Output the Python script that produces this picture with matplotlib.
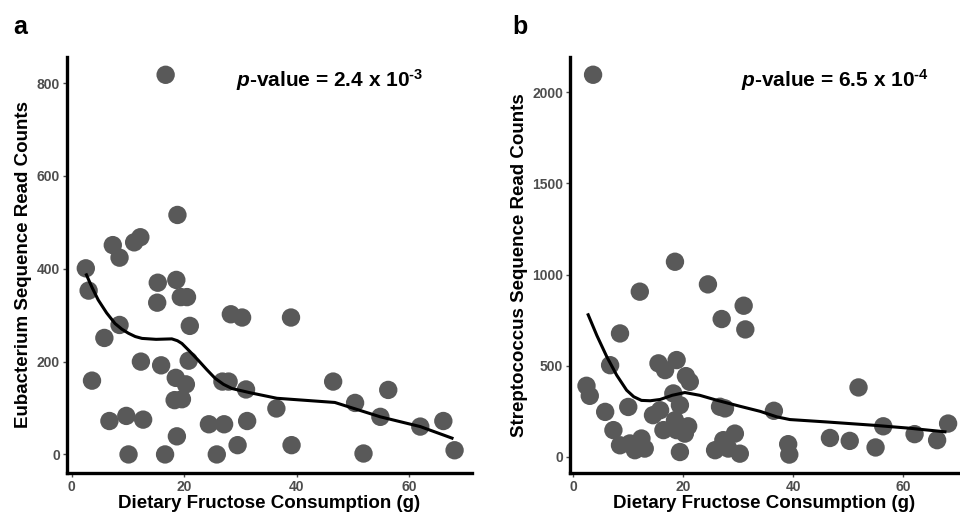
import matplotlib
matplotlib.use("Agg")
import matplotlib.pyplot as plt

plt.rcParams['font.family'] = ['Liberation Sans', 'DejaVu Sans']
plt.rcParams['mathtext.fontset'] = 'custom'
plt.rcParams['mathtext.rm'] = 'Liberation Sans:bold'
plt.rcParams['mathtext.it'] = 'Liberation Sans:bold:italic'
plt.rcParams['mathtext.bf'] = 'Liberation Sans:bold'

# ---- Panel a: Eubacterium ----
a_x = [16.7, 18.8, 7.3, 8.5, 11.1, 12.2, 2.5, 3.0, 15.3, 18.6, 15.2, 19.4, 20.5,
       28.3, 30.3, 39.0, 8.5, 21.0, 5.8, 12.3, 15.9, 20.8, 3.6, 18.5, 20.3,
       26.8, 27.9, 31.0, 46.5, 56.3, 18.3, 19.6, 36.4, 50.4, 6.7, 9.7, 12.7,
       24.4, 27.1, 31.2, 54.9, 66.1, 62.0, 18.7, 29.5, 39.1, 10.1, 16.6, 25.8,
       51.9, 68.1]
a_y = [818, 516, 451, 424, 457, 468, 401, 353, 370, 376, 327, 339, 339,
       302, 295, 295, 279, 277, 251, 200, 192, 202, 159, 165, 151,
       157, 157, 140, 157, 139, 117, 119, 99, 111, 72, 83, 75,
       65, 65, 72, 81, 72, 60, 39, 20, 20, 0, 0, 0,
       2, 9]
a_fit_x = [2.5, 3.6, 4.7, 6.2, 7.7, 8.9, 10.1, 11.3, 12.5, 15.0, 17.8, 18.8, 19.6,
           21.0, 22.5, 24.0, 25.5, 27.0, 28.5, 31.7, 36.5, 46.8, 54.9, 62.0, 67.9]
a_fit_y = [390, 360, 333, 305, 282, 270, 261, 254, 250, 248, 249, 245, 239,
           222, 203, 183, 164, 151, 142, 133, 121, 112, 81, 60, 34]

# ---- Panel b: Streptococcus ----
b_x = [3.6, 18.5, 24.5, 12.1, 31.0, 27.0, 31.3, 8.5, 6.7, 15.5, 16.7, 18.8,
       20.5, 21.2, 2.4, 3.0, 51.9, 18.2, 19.4, 10.0, 26.7, 27.6, 36.5, 5.8,
       14.5, 15.8, 18.5, 20.9, 20.3, 16.4, 18.8, 7.3, 56.4, 68.2, 62.1, 46.7,
       50.3, 66.2, 55.0, 29.4, 39.1, 39.3, 8.5, 10.3, 11.2, 12.4, 13.0, 19.4,
       25.8, 27.3, 28.2, 30.3]
b_y = [2095, 1070, 946, 906, 829, 756, 699, 677, 503, 513, 476, 531,
       443, 412, 390, 335, 381, 348, 284, 274, 275, 266, 253, 247,
       229, 256, 201, 168, 128, 147, 147, 147, 168, 183, 125, 104,
       88, 92, 52, 128, 70, 13, 64, 74, 37, 101, 46, 27,
       37, 92, 46, 18]
b_fit_x = [2.6, 4.3, 6.1, 7.9, 9.7, 11.0, 12.4, 14.0, 15.8, 18.0, 20.3, 23.0,
           26.1, 30.3, 34.0, 37.0, 39.4, 46.0, 54.5, 61.0, 67.9]
b_fit_y = [787, 665, 549, 448, 366, 330, 310, 308, 315, 338, 353, 338,
           311, 278, 250, 220, 205, 192, 174, 158, 137]

a_ticks_y = [0, 200, 400, 600, 800]
b_ticks_y = [0, 500, 1000, 1500, 2000]
x_ticks = [0, 20, 40, 60]

pt_color = '#595959'
tick_color = '#4D4D4D'

fig = plt.figure(figsize=(9.6, 5.18), dpi=100)
axa = fig.add_axes([66.7/960, 45/518, 405.3/960, 416.3/518])
axb = fig.add_axes([570/960, 45/518, 388/960, 416.3/518])

panels = [
    (axa, a_x, a_y, a_fit_x, a_fit_y, a_ticks_y, (-0.9, 71.2), (-40, 857),
     'Eubacterium Sequence Read Counts', r'$\it{p}$-value = 2.4 x 10$^{\text{-}3}$', 0.65),
    (axb, b_x, b_y, b_fit_x, b_fit_y, b_ticks_y, (-0.6, 70.0), (-88, 2194),
     'Streptococcus Sequence Read Counts', r'$\it{p}$-value = 6.5 x 10$^{\text{-}4}$', 0.683),
]

for ax, xs, ys, fx, fy, yt, xl, yl, ylab, ptxt, px in panels:
    ax.scatter(xs, ys, s=175, color=pt_color, edgecolors='none', zorder=2)
    ax.plot(fx, fy, color='black', lw=2.2, zorder=3, solid_capstyle='butt')
    ax.set_xlim(*xl)
    ax.set_ylim(*yl)
    ax.set_xticks(x_ticks)
    ax.set_yticks(yt)
    for s in ['top', 'right']:
        ax.spines[s].set_visible(False)
    for s in ['left', 'bottom']:
        ax.spines[s].set_linewidth(2.4)
        ax.spines[s].set_color('black')
    ax.tick_params(axis='both', length=3, width=1, color=tick_color,
                   labelcolor=tick_color, labelsize=10, pad=2)
    for lab in ax.get_xticklabels() + ax.get_yticklabels():
        lab.set_fontweight('bold')
    ax.set_xlabel('Dietary Fructose Consumption (g)', fontsize=13.5,
                  fontweight='bold', labelpad=1)
    ax.set_ylabel(ylab, fontsize=13.5, fontweight='bold', labelpad=3)
    ax.text(px, 0.944, ptxt, transform=ax.transAxes, ha='center', va='center',
            fontsize=15, fontweight='bold')

fig.text(13/960, 1 - 27/518, 'a', fontsize=18, fontweight='bold', va='center', ha='left')
fig.text(512/960, 1 - 27/518, 'b', fontsize=18, fontweight='bold', va='center', ha='left')

fig.savefig('out.png', dpi=100, facecolor='white')
